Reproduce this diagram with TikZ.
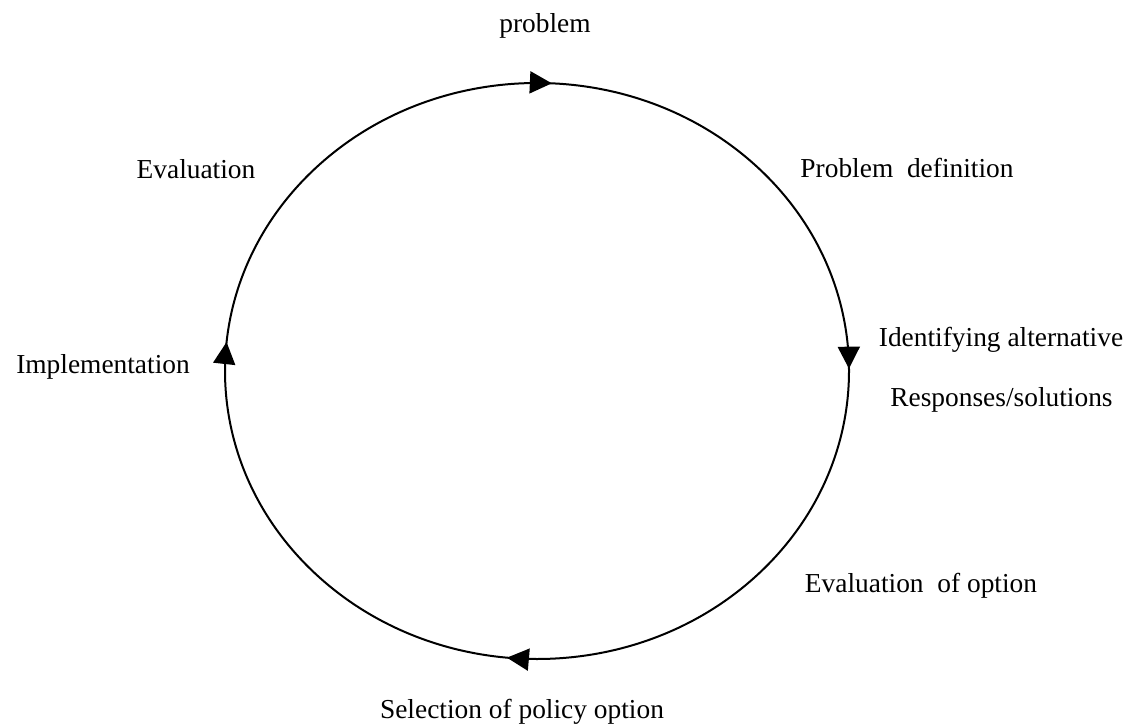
\documentclass[tikz,border=0pt]{standalone}
\usepackage{fontspec}
\setmainfont{Liberation Serif}
\usetikzlibrary{arrows.meta,decorations.markings}

\begin{document}
\begin{tikzpicture}[x=0.5pt,y=0.5pt,
	cyc/.tip={Triangle[length=11pt,width=11pt]},
	stage/.style={font=\fontsize{13.7}{16}\selectfont, inner sep=0pt, anchor=base},
	loop/.style={line width=1pt, postaction={decorate}, decoration={markings,
		mark=at position 0.1206 with {\arrow{cyc}},
		mark=at position 0.3878 with {\arrow{cyc}},
		mark=at position 0.6372 with {\arrow{cyc}},
		mark=at position 0.8797 with {\arrow{cyc}}}}]
	
	\useasboundingbox (0,0) rectangle (1129,724);
	
	% policy cycle
	\coordinate (ctr) at (537,353);
	\draw[loop] (ctr) ++(405:312 and 288) arc[start angle=405, end angle=45, x radius=312, y radius=288];
	
	% stages
	\node[stage] (prob)    at (545,691)    {problem};
	\node[stage] (probdef) at (907,546)    {Problem\ \ definition};
	\node[stage] (ident)   at (1001,377.3) {Identifying alternative};
	\node[stage] (resp)    at (1001.5,317.3) {Responses/solutions};
	\node[stage] (evalopt) at (921,132)    {Evaluation\ \ of option};
	\node[stage] (select)  at (522,6)      {Selection of policy option};
	\node[stage] (impl)    at (103,351)    {Implementation};
	\node[stage] (evalu)   at (196,545)    {Evaluation};
\end{tikzpicture}
\end{document}
